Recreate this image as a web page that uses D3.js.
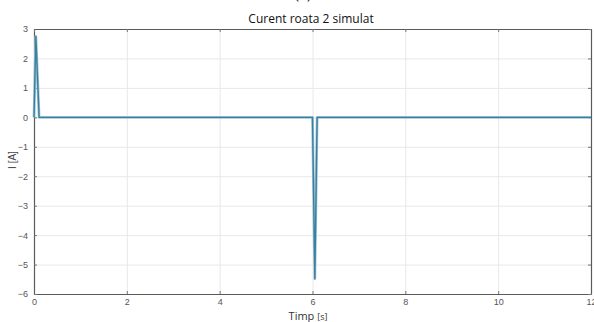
<!DOCTYPE html>
<html>
<head>
<meta charset="utf-8">
<script src="https://cdn.jsdelivr.net/npm/d3@7"></script>
<style>
  body { margin: 0; background: #fff; }
  svg { display: block; font-family: "Liberation Sans", Arial, sans-serif; }
  .grid line { stroke: #e8e8e8; }
  .grid path { display: none; }
</style>
</head>
<body>
<div id="container"></div>
<script>
// valorile
const timp = [0, 0.04, 0.11, 6.0, 6.05, 6.1, 12];
const curent = [0, 2.75, 0, 0, -5.48, 0, 0];
const xTicks = [0, 2, 4, 6, 8, 10, 12];
const yTicks = [3, 2, 1, 0, -1, -2, -3, -4, -5, -6];

const W = 594, H = 322;
const margin = {top: 29, right: 3, bottom: 28, left: 34};
const width = W - margin.left - margin.right;
const height = H - margin.top - margin.bottom;

const svg = d3.select("#container").append("svg")
  .attr("width", W).attr("height", H);

// bucata din eticheta de deasupra, taiata
svg.append("text")
  .attr("x", 303).attr("y", -1)
  .attr("text-anchor", "middle")
  .style("font", "16px 'Open Sans'")
  .attr("fill", "#333")
  .text("(c)");

const chart = svg.append("g")
  .attr("transform", `translate(${margin.left}, ${margin.top})`);

const x = d3.scaleLinear().domain([0, 12]).range([0, width]);
const y = d3.scaleLinear().domain([-6, 3]).range([height, 0]);

// grid
chart.append("g").attr("class", "grid")
  .attr("transform", `translate(0, ${height})`)
  .call(d3.axisBottom(x).tickValues(xTicks).tickSize(-height).tickFormat(""));
chart.append("g").attr("class", "grid")
  .call(d3.axisLeft(y).tickValues(yTicks).tickSize(-width).tickFormat(""));

// axe
chart.append("g")
  .attr("transform", `translate(0, ${height})`)
  .call(d3.axisBottom(x).tickValues(xTicks).tickSizeInner(-3).tickSizeOuter(0).tickPadding(5));
chart.append("g")
  .call(d3.axisLeft(y).tickValues(yTicks).tickSizeInner(-3).tickSizeOuter(0).tickPadding(6));
chart.append("g")
  .call(d3.axisTop(x).tickValues(xTicks).tickSizeInner(-3).tickSizeOuter(0).tickFormat(""));
chart.append("g")
  .attr("transform", `translate(${width}, 0)`)
  .call(d3.axisRight(y).tickValues(yTicks).tickSizeInner(-3).tickSizeOuter(0).tickFormat(""));

chart.selectAll(".domain").attr("stroke", "#5a5a5a").attr("stroke-width", 1.2);
chart.selectAll(".tick line").filter(function () { return !this.closest(".grid"); })
  .attr("stroke", "#777");
chart.selectAll(".tick text")
  .style("font", "9px 'Liberation Sans'")
  .attr("fill", "#555");

// linia
const line = d3.line()
  .x((d, i) => x(timp[i]))
  .y(d => y(d));

chart.append("path")
  .datum(curent)
  .attr("fill", "none")
  .attr("stroke", "#a4c8d8")
  .attr("stroke-width", 2.8)
  .attr("stroke-linejoin", "round")
  .attr("d", line);
chart.append("path")
  .datum(curent)
  .attr("fill", "none")
  .attr("stroke", "#3a7f9e")
  .attr("stroke-width", 1.4)
  .attr("stroke-linejoin", "round")
  .attr("d", line);

// titlu si etichete
svg.append("text")
  .attr("x", 311).attr("y", 23)
  .attr("text-anchor", "middle")
  .style("font", "12px 'Open Sans'")
  .attr("fill", "#111")
  .text("Curent roata 2 simulat");

const xl = svg.append("text")
  .attr("x", 308).attr("y", 320)
  .attr("text-anchor", "middle")
  .attr("fill", "#333");
xl.append("tspan").style("font", "11px 'Open Sans'").text("Timp ");
xl.append("tspan").style("font", "9px 'Open Sans'").text("[s]");

svg.append("text")
  .attr("transform", "translate(16, 160) rotate(-90)")
  .attr("text-anchor", "middle")
  .style("font", "10px 'Liberation Sans'")
  .attr("fill", "#444")
  .text("I [A]");
</script>
</body>
</html>
